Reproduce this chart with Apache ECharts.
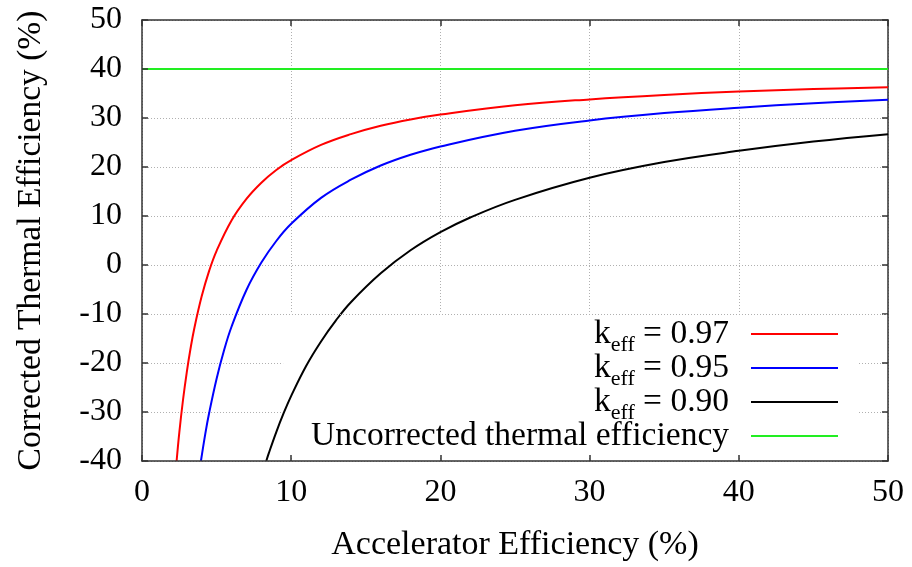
<!DOCTYPE html>
<html>
<head>
<meta charset="utf-8">
<script src="https://cdn.jsdelivr.net/npm/echarts@6/dist/echarts.min.js"></script>
<style>
  html, body { margin: 0; padding: 0; background: #fff; }
  #chart { width: 912px; height: 567px; }
</style>
</head>
<body>
<div id="chart"></div>
<script>
// values (accelerator efficiency %, corrected efficiency %)
const xRed = [2.32, 2.5, 2.75, 3, 3.25, 3.5, 4, 4.5, 5, 6, 7, 8, 9, 10, 12, 14, 16, 18, 20, 25, 30, 35, 40, 45, 50]
const yRed = [-40, -34.2, -27.5, -21.9, -17.1, -13.0, -6.4, -1.2, 2.9, 9.1, 13.5, 16.8, 19.4, 21.4, 24.5, 26.7, 28.4, 29.7, 30.7, 32.6, 33.8, 34.7, 35.4, 35.9, 36.3]

const xBlue = [3.95, 4.25, 4.5, 5, 5.5, 6, 7, 8, 9, 10, 12, 14, 16, 18, 20, 25, 30, 35, 40, 45, 50]
const yBlue = [-40, -34.3, -30.2, -23.2, -17.4, -12.6, -5.1, 0.5, 4.9, 8.4, 13.7, 17.4, 20.3, 22.5, 24.2, 27.4, 29.5, 31.0, 32.1, 33.0, 33.7]

const xBlack = [8.33, 8.5, 9, 9.5, 10, 11, 12, 13, 14, 16, 18, 20, 22, 25, 30, 35, 40, 45, 50]
const yBlack = [-40, -38.4, -34.1, -30.2, -26.7, -20.6, -15.6, -11.3, -7.6, -1.7, 3.0, 6.7, 9.7, 13.3, 17.8, 21.0, 23.3, 25.2, 26.7]

const xGreen = [0, 50]
const yGreen = [40, 40]

// the one grid line that stays visible across the top of the key box
const keyGridLines = [-10]

const seriesNames = ['k_eff = 0.97', 'k_eff = 0.95', 'k_eff = 0.90', 'Uncorrected thermal efficiency']
const seriesColors = ['#ff0000', '#0000ff', '#000000', '#22ee22']
const keffLabels = ['0.97', '0.95', '0.90']

const FONT = '"Liberation Serif", "DejaVu Serif", serif'

function pairs(xs, ys) {
  return xs.map((x, i) => [x, ys[i]])
}

const chart = echarts.init(document.getElementById('chart'), null, { renderer: 'canvas' })

const frame = { show: true, onZero: false, lineStyle: { color: '#333', width: 1.5 } }
const ticksIn = { show: true, inside: true, length: 6, lineStyle: { color: '#333', width: 1.5 } }
const dottedStyle = { color: '#b0b0b0', width: 1, type: [1, 2] }
const dotted = { show: true, lineStyle: dottedStyle }

const allData = [pairs(xRed, yRed), pairs(xBlue, yBlue), pairs(xBlack, yBlack), pairs(xGreen, yGreen)]

// frame, ticks and labels sit above the legend box; the dotted grid goes under it
chart.setOption({
  animation: false,
  backgroundColor: '#fff',
  grid: { left: 142, right: 24, top: 20, bottom: 100, containLabel: false },
  xAxis: [
    {
      type: 'value', min: 0, max: 50, interval: 10, position: 'bottom', z: 8,
      name: 'Accelerator Efficiency (%)', nameLocation: 'middle', nameGap: 67,
      nameTextStyle: { fontFamily: FONT, fontSize: 34, color: '#000' },
      axisLine: frame, axisTick: ticksIn, splitLine: { show: false },
      axisLabel: { fontFamily: FONT, fontSize: 32, color: '#000', margin: 16 }
    },
    {
      type: 'value', min: 0, max: 50, interval: 10, position: 'top', z: 0,
      axisLine: frame, axisTick: ticksIn, splitLine: dotted, axisLabel: { show: false }
    }
  ],
  yAxis: [
    {
      type: 'value', min: -40, max: 50, interval: 10, position: 'left', z: 8,
      name: 'Corrected Thermal Efficiency (%)', nameLocation: 'middle', nameGap: 94,
      nameTextStyle: { fontFamily: FONT, fontSize: 33.5, color: '#000' },
      axisLine: frame, axisTick: ticksIn, splitLine: { show: false },
      axisLabel: { fontFamily: FONT, fontSize: 32, color: '#000', margin: 20 }
    },
    {
      type: 'value', min: -40, max: 50, interval: 10, position: 'right', z: 0,
      axisLine: frame, axisTick: ticksIn, splitLine: dotted, axisLabel: { show: false }
    }
  ],
  legend: {
    orient: 'vertical',
    right: 54,
    top: 312,
    align: 'right',
    padding: [0, 20, 0, 28],
    backgroundColor: '#fff',
    z: 1,
    itemGap: -10,
    itemWidth: 87,
    itemHeight: 2,
    icon: 'rect',
    data: seriesNames,
    formatter: (name) => {
      const i = seriesNames.indexOf(name)
      if (i < 3) return '{a|k}{s|eff}{a| = ' + keffLabels[i] + '}'
      return '{a|' + name + '}{s|\u200b}'
    },
    textStyle: {
      padding: [0, 17, 0, 0],
      rich: {
        a: { fontFamily: FONT, fontSize: 33.5, color: '#000', lineHeight: 34 },
        s: { fontFamily: FONT, fontSize: 22, color: '#000', lineHeight: 12, padding: [22, 0, 0, 0] }
      }
    }
  },
  series: allData.map((d, i) => ({
    name: seriesNames[i],
    type: 'line',
    xAxisIndex: 0,
    yAxisIndex: 0,
    data: d,
    symbol: 'none',
    smooth: i < 3 ? 0.4 : false,
    color: seriesColors[i],
    lineStyle: { color: seriesColors[i], width: 2 },
    z: 6 - i,
    markLine: i === 3 ? {
      silent: true,
      symbol: 'none',
      label: { show: false },
      lineStyle: dottedStyle,
      data: keyGridLines.map((v) => ({ yAxis: v }))
    } : undefined
  }))
})
</script>
</body>
</html>
